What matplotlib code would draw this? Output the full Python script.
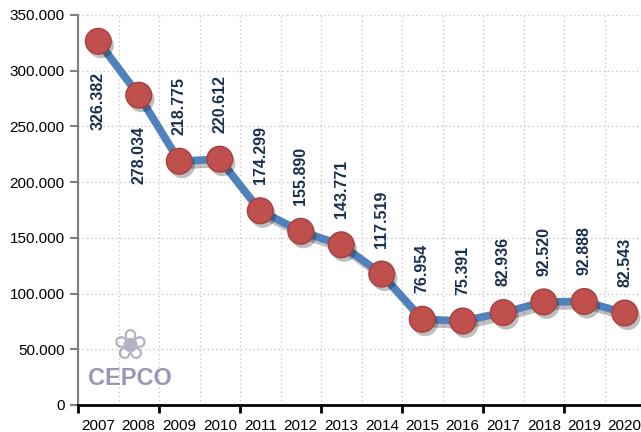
import numpy as np
import matplotlib.pyplot as plt
import matplotlib.patheffects as pe
from matplotlib.ticker import FuncFormatter

# Data
years = ["2007", "2008", "2009", "2010", "2011", "2012", "2013",
         "2014", "2015", "2016", "2017", "2018", "2019", "2020"]
values = [326382, 278034, 218775, 220612, 174299, 155890, 143771,
          117519, 76954, 75391, 82936, 92520, 92888, 82543]
labels = ["326.382", "278.034", "218.775", "220.612", "174.299", "155.890", "143.771",
          "117.519", "76.954", "75.391", "82.936", "92.520", "92.888", "82.543"]
below = [True, True] + [False] * 12

plt.rcParams['font.family'] = ['Liberation Sans', 'DejaVu Sans']

fig = plt.figure(figsize=(6.41, 4.32), dpi=100)
ax = fig.add_axes([78 / 641, 1 - 405 / 432, 567 / 641, 390 / 432])

x = np.arange(len(years))
line_fx = [pe.SimpleLineShadow(offset=(2, -3), alpha=0.25, shadow_color='k'), pe.Normal()]
mark_fx = [pe.SimplePatchShadow(offset=(2, -3), alpha=0.25, shadow_rgbFace='k'), pe.Normal()]
ax.plot(x, values, color='#4F81BD', lw=5.5, zorder=3, path_effects=line_fx,
        solid_joinstyle='round')
ax.plot(x, values, 'o', ms=18.5, mfc='#C0504D', mec='#A5403D', mew=1, zorder=4,
        path_effects=mark_fx)

for xi, v, lab, b in zip(x, values, labels, below):
    if b:
        ax.annotate(lab, (xi, v), xytext=(0, -22), textcoords='offset points',
                    rotation=90, ha='center', va='top', fontsize=11.5,
                    fontweight='bold', color='#17304F', zorder=5)
    else:
        ax.annotate(lab, (xi, v), xytext=(0, 19), textcoords='offset points',
                    rotation=90, ha='center', va='bottom', fontsize=11.5,
                    fontweight='bold', color='#17304F', zorder=5)

ax.set_xlim(-0.5, 13.5)
ax.set_ylim(0, 350000)
ax.set_yticks(np.arange(0, 350001, 50000))
ax.yaxis.set_major_formatter(FuncFormatter(
    lambda v, p: "0" if v == 0 else f"{int(v):,}".replace(",", ".")))

ax.set_xticks(np.arange(-0.5, 13.6, 2))
ax.set_xticklabels([])
ax.set_xticks(x, minor=True)
ax.set_xticklabels(years, minor=True)
ax.tick_params(axis='x', which='minor', length=0, labelsize=11, pad=10)
ax.tick_params(axis='x', which='major', length=6, width=2, color='black', direction='out')
ax.tick_params(axis='y', length=6, width=1.5, color='#808080', labelsize=11)

for gx in np.arange(-0.5, 14, 1):
    ax.axvline(gx, color='#C8C8C8', lw=1, ls=(0, (1, 2)), zorder=1)
ax.grid(axis='y', color='#C8C8C8', lw=1, ls=(0, (1, 2)), zorder=1)
ax.set_axisbelow(True)

for s in ['top', 'right']:
    ax.spines[s].set_visible(False)
ax.spines['left'].set_color('#808080')
ax.spines['left'].set_linewidth(1.5)
ax.spines['bottom'].set_color('black')
ax.spines['bottom'].set_linewidth(2)

# watermark logo
ax.text(0.78, 24000, "CEPCO", fontsize=17, fontweight='bold', color='#8585AA',
        alpha=0.85, ha='center', va='center', zorder=2)
ax.text(0.78, 52000, "\u2740", fontsize=30, color='#9A9AB0', alpha=0.75,
        ha='center', va='center', zorder=2, family=['DejaVu Sans'])

fig.savefig("out.png", dpi=100)
